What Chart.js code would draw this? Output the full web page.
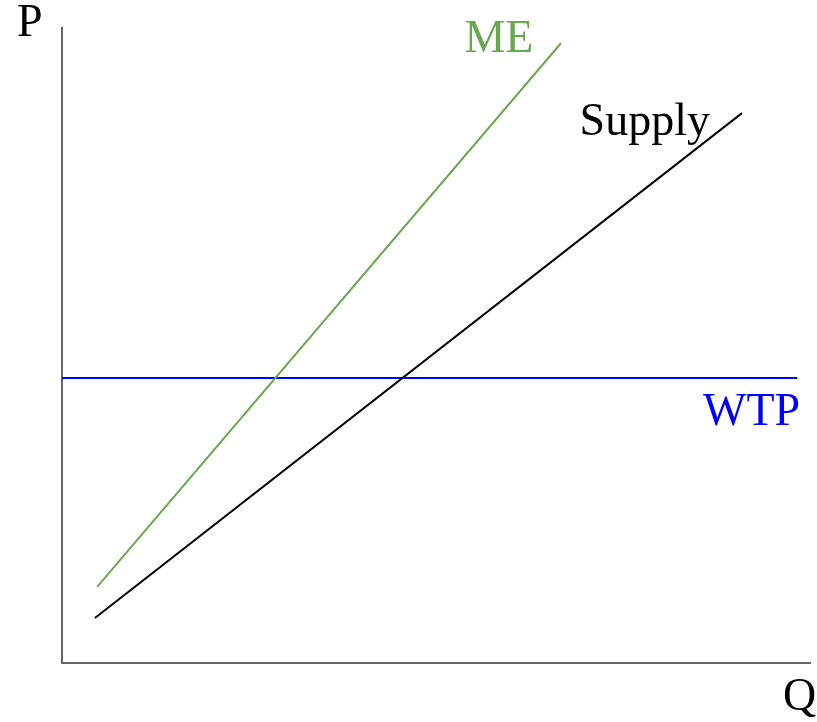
<!DOCTYPE html>
<html>
<head>
<meta charset="utf-8">
<script src="https://cdn.jsdelivr.net/npm/chart.js@4/dist/chart.umd.min.js"></script>
<style>
html,body{margin:0;padding:0;background:#fff;}
#wrap{width:817px;height:722px;position:relative;}
</style>
</head>
<body>
<div id="wrap"><canvas id="c" width="817" height="722"></canvas></div>
<script>
// Curve endpoints (x = Q, y = P on 0–100 scales)
const meQ = [4.7, 66.7];
const meP = [12.0, 97.6];
const supplyQ = [4.4, 90.9];
const supplyP = [7.1, 86.6];
const wtpQ = [0, 98.3];
const wtpP = [44.9, 44.9];
const seriesNames = ['ME', 'Supply', 'WTP'];
const axisLabels = ['P', 'Q'];

function pts(xs, ys){ return xs.map((x,i)=>({x:x, y:ys[i]})); }

const FONT = '46px "Liberation Serif", "Times New Roman", serif';

const labelPlugin = {
  id: 'labels',
  afterDraw(chart){
    const ctx = chart.ctx;
    const xs = chart.scales.x, ys = chart.scales.y;
    const a = chart.chartArea;
    ctx.save();
    ctx.font = FONT;
    ctx.textBaseline = 'alphabetic';
    ctx.textAlign = 'left';
    // series labels anchored in data space
    const items = [
      {t: seriesNames[0], c: '#6aa84f', x: 53.8, y: 96.2},
      {t: seriesNames[1], c: '#000000', x: 69.2, y: 83.2},
      {t: seriesNames[2], c: '#0000ff', x: 85.7, y: 37.5}
    ];
    items.forEach(it=>{
      ctx.fillStyle = it.c;
      ctx.fillText(it.t, xs.getPixelForValue(it.x), ys.getPixelForValue(it.y));
    });
    ctx.fillStyle = '#000';
    ctx.fillText(axisLabels[0], a.left - 45, a.top + 8);
    ctx.fillText(axisLabels[1], a.right - 27, a.bottom + 47);
    ctx.restore();
  }
};

new Chart(document.getElementById('c'), {
  type: 'scatter',
  data: {
    datasets: [
      {label: seriesNames[0], data: pts(meQ, meP), showLine: true, borderColor: '#6aa84f', borderWidth: 2, pointRadius: 0},
      {label: seriesNames[1], data: pts(supplyQ, supplyP), showLine: true, borderColor: '#000000', borderWidth: 2, pointRadius: 0},
      {label: seriesNames[2], data: pts(wtpQ, wtpP), showLine: true, borderColor: '#0000ff', borderWidth: 2, pointRadius: 0}
    ]
  },
  options: {
    responsive: false,
    animation: false,
    events: [],
    layout: {padding: {left: 62, top: 28, right: 7, bottom: 59}},
    plugins: {legend: {display: false}, tooltip: {enabled: false}},
    scales: {
      x: {
        type: 'linear', min: 0, max: 100,
        ticks: {display: false},
        grid: {display: false, drawTicks: false},
        border: {display: true, color: '#666666', width: 2},
        afterFit(s){ s.height = 0; }
      },
      y: {
        type: 'linear', min: 0, max: 100,
        ticks: {display: false},
        grid: {display: false, drawTicks: false},
        border: {display: true, color: '#666666', width: 2},
        afterFit(s){ s.width = 0; }
      }
    }
  },
  plugins: [labelPlugin]
});
</script>
</body>
</html>
